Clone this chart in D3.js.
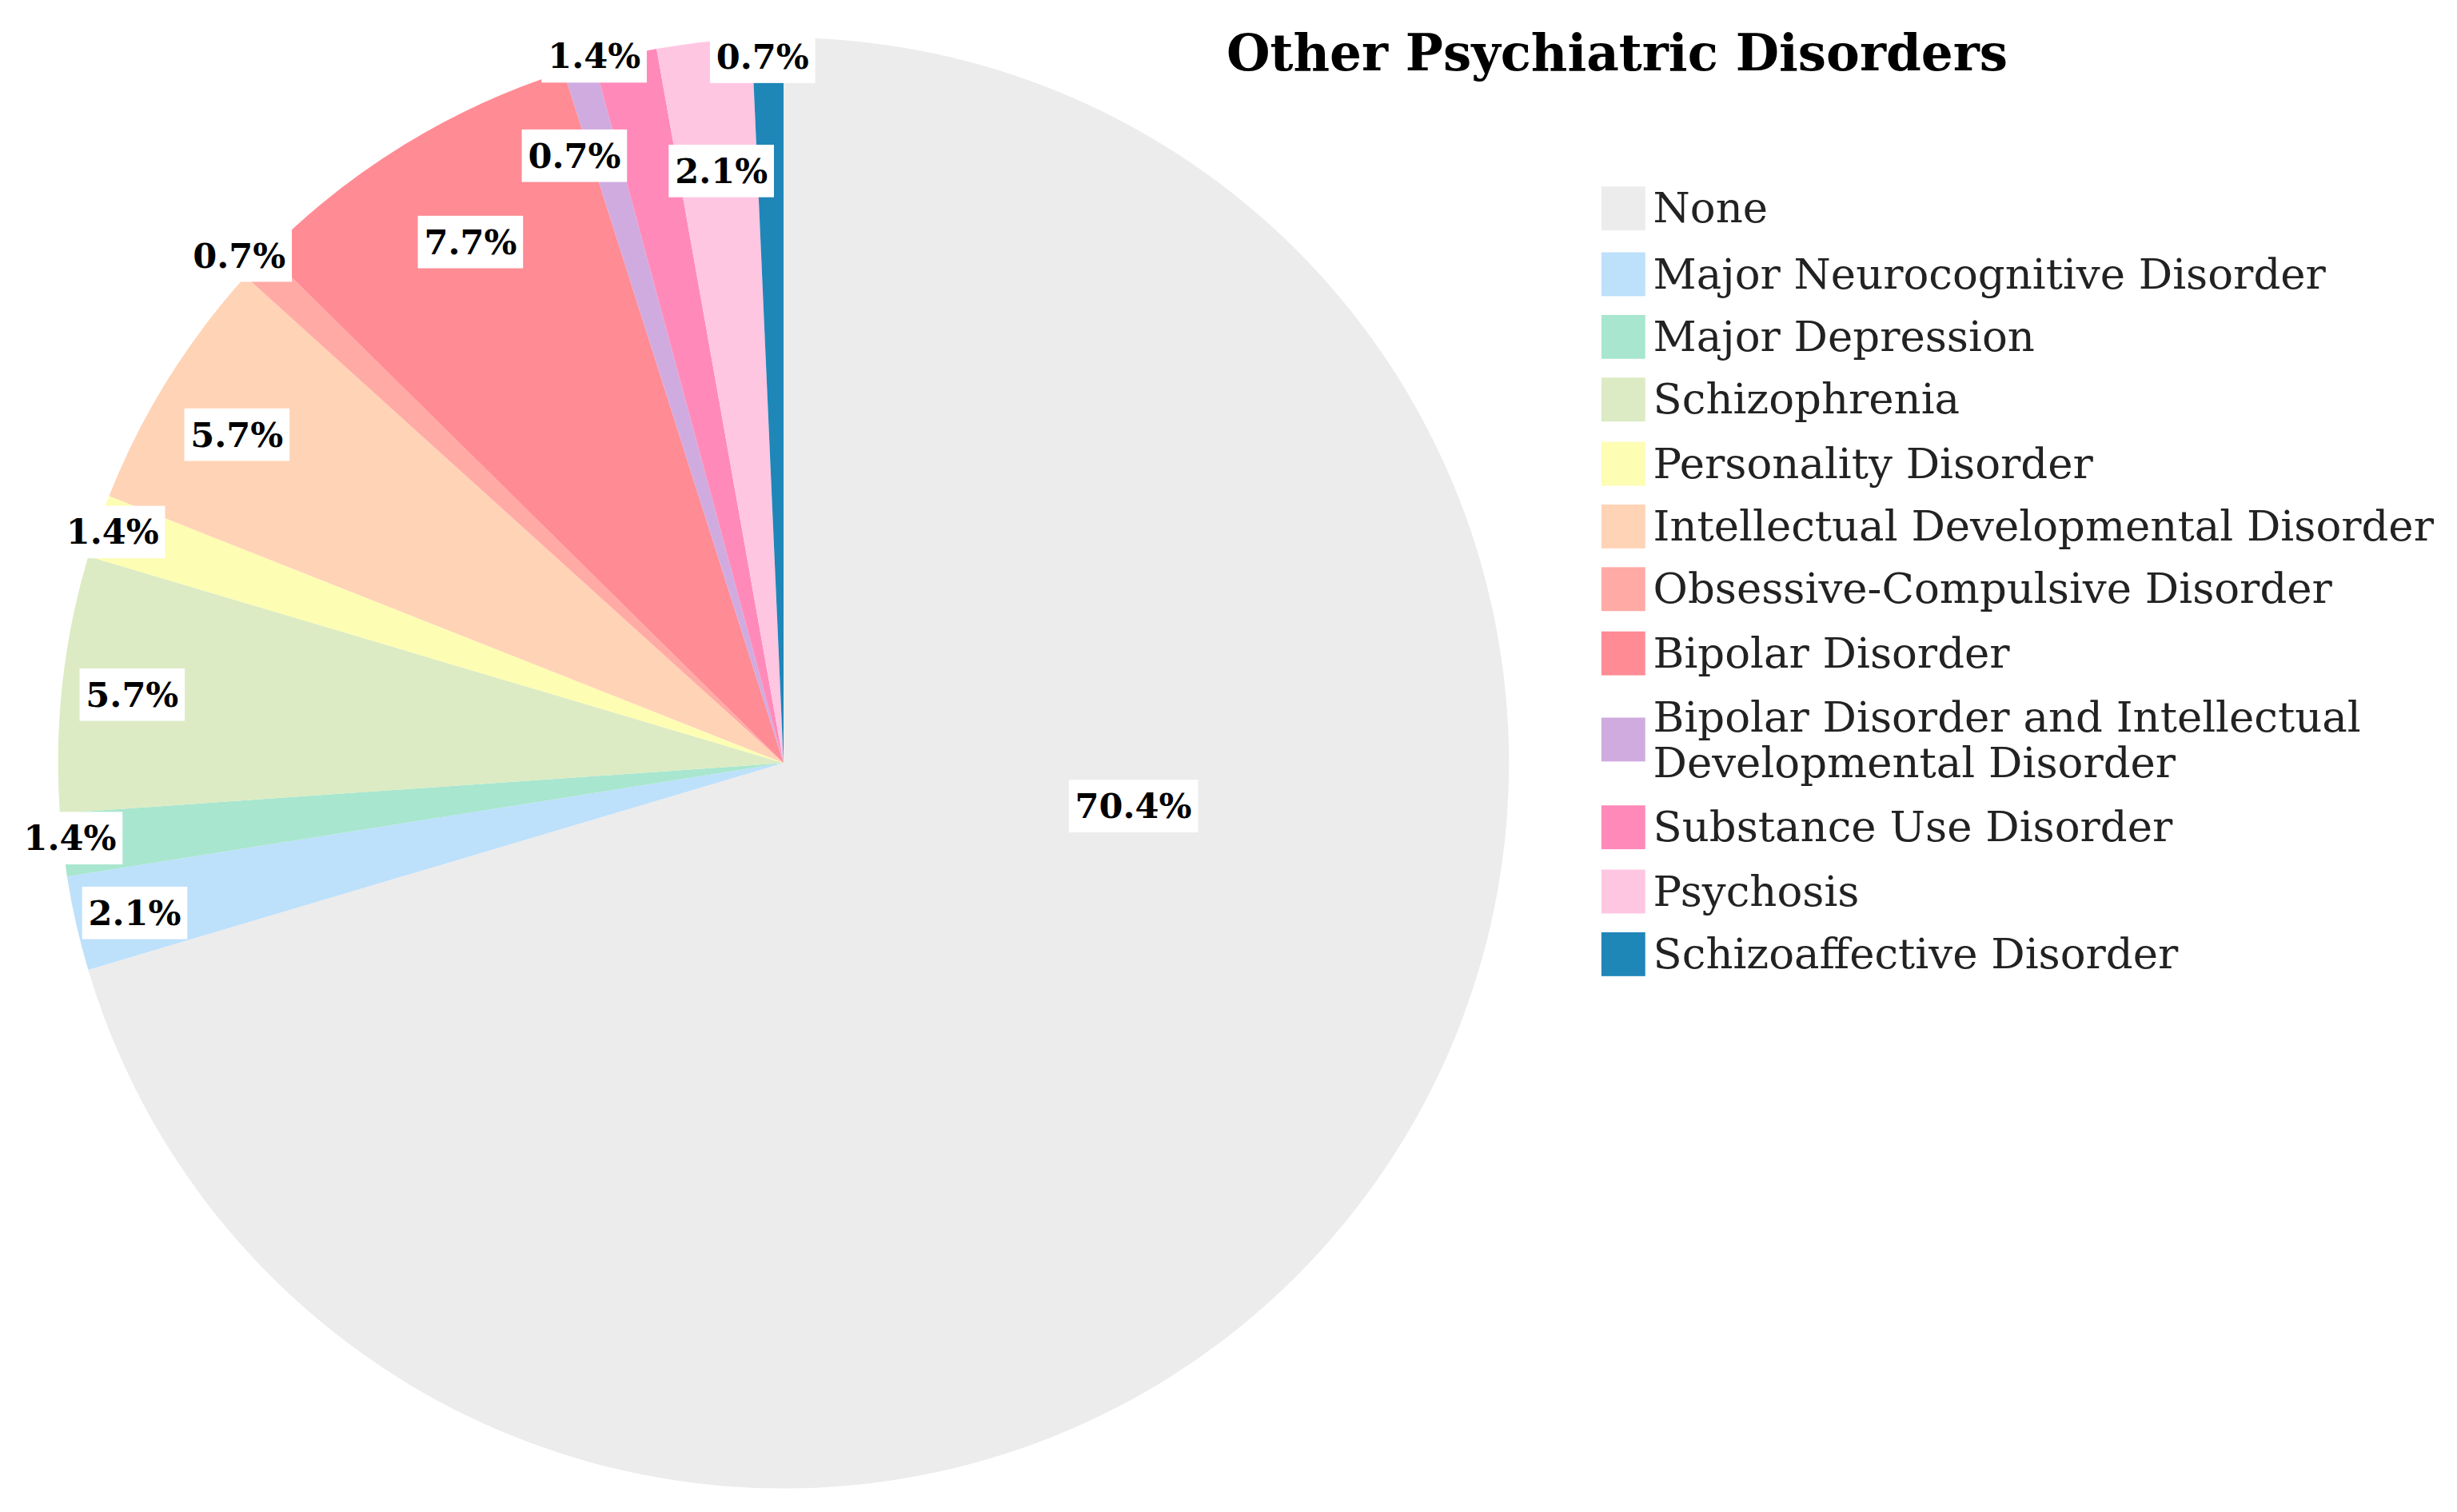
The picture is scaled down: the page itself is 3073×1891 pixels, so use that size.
<!DOCTYPE html>
<html>
<head>
<meta charset="utf-8">
<script src="https://cdn.jsdelivr.net/npm/d3@7"></script>
<style>
  body { margin: 0; background: #fff; }
  text { font-family: "DejaVu Serif", "Liberation Serif", serif; }
</style>
</head>
<body>
<svg id="chart"></svg>
<script>
// Data
var categories = ["None", "Major Neurocognitive Disorder", "Major Depression", "Schizophrenia",
  "Personality Disorder", "Intellectual Developmental Disorder", "Obsessive-Compulsive Disorder",
  "Bipolar Disorder", "Bipolar Disorder and Intellectual Developmental Disorder",
  "Substance Use Disorder", "Psychosis", "Schizoaffective Disorder"];
var values = [70.4, 2.1, 1.4, 5.7, 1.4, 5.7, 0.7, 7.7, 0.7, 1.4, 2.1, 0.7];
var colors = ["#ececec", "#bde0fb", "#a8e6cf", "#dcebc3", "#fdfdb4", "#ffd3b6", "#ffaaa5",
  "#ff8b94", "#d0abe0", "#ff8ab9", "#ffc6e2", "#1f86b8"];

// label placement (angle in degrees clockwise from top, radius in px)
var labelAngle = [97, 257, 264, 276, 289, 301, 313, 329, 341, 345, 354, 358.3];
var labelR = [225, 425, 458, 418, 453, 407, 475, 388, 410, 467, 380, 451];

var W = 1568, H = 965;
var svg = d3.select("#chart")
  .attr("width", 3073).attr("height", 1891)
  .attr("viewBox", "0 0 " + W + " " + H);

var cx = 500, cy = 487, radius = 463;
var g = svg.append("g").attr("transform", "translate(" + cx + "," + cy + ")");

var pie = d3.pie().sort(null).value(d => d)(values);
var arc = d3.arc().innerRadius(0).outerRadius(radius);

g.selectAll("path").data(pie).enter().append("path")
  .attr("d", arc)
  .attr("fill", (d, i) => colors[i]);

// labels with white boxes
pie.forEach((d, i) => {
  var a = labelAngle[i] * Math.PI / 180;
  var x = labelR[i] * Math.sin(a), y = -labelR[i] * Math.cos(a);
  var lg = g.append("g").attr("transform", "translate(" + x + "," + y + ")");
  var t = lg.append("text")
    .attr("text-anchor", "middle").attr("dy", "0.35em")
    .attr("font-size", 22).attr("font-weight", "bold")
    .text(values[i].toFixed(1) + "%");
  var bb = t.node().getBBox();
  lg.insert("rect", "text")
    .attr("x", bb.x - 4).attr("y", bb.y - 4)
    .attr("width", bb.width + 8).attr("height", bb.height + 8)
    .attr("fill", "#fff");
});

// title
svg.append("text")
  .attr("x", 1032).attr("y", 45)
  .attr("text-anchor", "middle")
  .attr("font-size", 32).attr("font-weight", "bold")
  .text("Other Psychiatric Disorders");

// legend
var rowY = [133, 175, 215, 255, 296, 336, 376, 417, 472, 528, 569, 609];
var legend = svg.append("g");
categories.forEach((c, i) => {
  var row = legend.append("g").attr("transform", "translate(1022," + rowY[i] + ")");
  row.append("rect").attr("x", 0).attr("y", -14).attr("width", 28).attr("height", 28)
    .attr("fill", colors[i]);
  var t = row.append("text").attr("x", 33).attr("font-size", 27).attr("fill", "#222");
  if (i === 8) {
    t.append("tspan").attr("x", 33).attr("y", -5).text("Bipolar Disorder and Intellectual");
    t.append("tspan").attr("x", 33).attr("y", 24).text("Developmental Disorder");
  } else {
    t.attr("y", 9).text(c);
  }
});
</script>
</body>
</html>
